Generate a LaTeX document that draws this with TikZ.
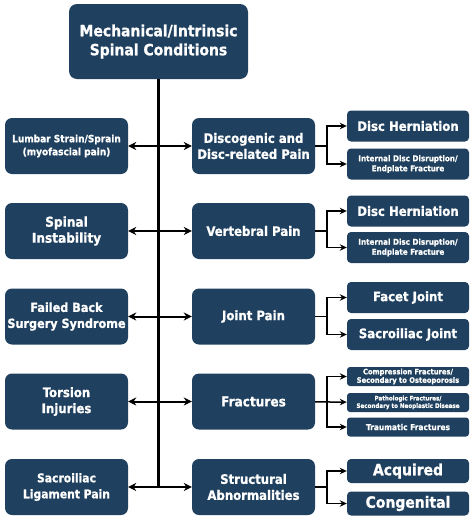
\documentclass[tikz,border=0pt]{standalone}
\usepackage{fontspec}
\setmainfont{DejaVu Sans Condensed}[BoldFont={DejaVu Sans Condensed Bold}, BoldFeatures={FakeBold=1}]
\usetikzlibrary{arrows.meta}
\definecolor{mynavy}{RGB}{31,64,94}
\newcommand{\sz}[2]{\fontsize{#1}{#2}\selectfont}
\newcommand{\widthside}{123pt}
\newcommand{\widthsub}{122pt}
\newcommand{\heightside}{56pt}
\tikzset{
    common/.style={draw=none, fill=mynavy, text=white, align=center, inner sep=1pt, font=\bfseries},
    rootbox/.style={common, rounded corners=8pt, minimum width=179pt, minimum height=75pt, font=\bfseries\sz{15.5}{19}},
    side/.style={common, rounded corners=7pt, minimum width=\widthside, minimum height=\heightside},
    sub/.style={common, rounded corners=4pt, minimum width=\widthsub, minimum height=31pt},
    thin/.style={sub, minimum height=19pt, rounded corners=3pt},
    trunk/.style={line width=2.2pt},
    twoway/.style={line width=2pt, {Stealth[length=8pt, width=8pt]}-{Stealth[length=8pt, width=8pt]}},
    branch/.style={line width=1.5pt, -{Stealth[length=7pt, width=6.5pt]}}
}
\begin{document}
\begin{tikzpicture}[x=1pt, y=-1pt]
    \useasboundingbox (0,0) rectangle (474,520);

    \node[rootbox] (root) at (158.5,41.5) {Mechanical/Intrinsic\\Spinal Conditions};

    % left column
    \node[side, font=\bfseries\sz{10}{13}] (lumbar) at (66.5,146) {Lumbar Strain/Sprain\\(myofascial pain)};
    \node[side, font=\bfseries\sz{13.5}{16}] (instab) at (66.5,231) {Spinal\\Instability};
    \node[side, font=\bfseries\sz{12.5}{16}] (failed) at (66.5,316.5) {Failed Back\\Surgery Syndrome};
    \node[side, font=\bfseries\sz{13}{16}] (torsion) at (66.5,401.5) {Torsion\\Injuries};
    \node[side, font=\bfseries\sz{12}{16}] (ligament) at (66.5,487) {Sacroiliac\\Ligament Pain};

    % middle column
    \node[side, font=\bfseries\sz{13}{16}] (disco) at (253.5,146) {Discogenic and\\Disc-related Pain};
    \node[side, font=\bfseries\sz{13}{16}] (vertebral) at (253.5,231) {Vertebral Pain};
    \node[side, font=\bfseries\sz{13}{16}] (joint) at (253.5,316.5) {Joint Pain};
    \node[side, font=\bfseries\sz{13.5}{16}] (fract) at (253.5,401.5) {Fractures};
    \node[side, font=\bfseries\sz{13}{16}] (struct) at (253.5,487) {Structural\\Abnormalities};

    % right column
    \node[sub, font=\bfseries\sz{13}{15}] (disco-herniation) at (408,126) {Disc Herniation};
    \node[sub, font=\bfseries\sz{8}{10}] (disco-internal) at (408,164) {Internal Disc Disruption/\\Endplate Fracture};
    \node[sub, font=\bfseries\sz{13}{15}] (vertebral-herniation) at (408,211) {Disc Herniation};
    \node[sub, font=\bfseries\sz{8}{10}] (vertebral-internal) at (408,247.5) {Internal Disc Disruption/\\Endplate Fracture};
    \node[sub, font=\bfseries\sz{13}{15}] (facet) at (408,297.5) {Facet Joint};
    \node[sub, font=\bfseries\sz{13}{15}] (sacroiliac) at (408,334.5) {Sacroiliac Joint};
    \node[thin, font=\bfseries\sz{7.5}{8.5}] (compression) at (408,376.5) {Compression Fractures/\\Secondary to Osteoporosis};
    \node[thin, font=\bfseries\sz{6.2}{7.5}] (pathologic) at (408,402.5) {Pathologic Fractures/\\Secondary to Neoplastic Disease};
    \node[thin, font=\bfseries\sz{8.3}{10}] (traumatic) at (408,427) {Traumatic Fractures};
    \node[sub, minimum height=24pt, font=\bfseries\sz{15.5}{18}] (acquired) at (408,471) {Acquired};
    \node[sub, minimum height=24pt, font=\bfseries\sz{15.5}{18}] (congenital) at (408,503.5) {Congenital};

    \draw[trunk] (root.south) -- (root.south |- struct.west);

    \foreach \l/\m in {lumbar/disco, instab/vertebral, failed/joint, torsion/fract, ligament/struct}
        \draw[twoway] (\l) -- (\m);

    \foreach \m/\a/\b in {disco/disco-herniation/disco-internal, vertebral/vertebral-herniation/vertebral-internal,
                          joint/facet/sacroiliac, fract/compression/traumatic, struct/acquired/congenital} {
        \draw[branch] (\m.east) -- ++(12,0) |- (\a.west);
        \draw[branch] (\m.east) -- ++(12,0) |- (\b.west);
    }
    \draw[branch] (fract) -- (pathologic);
\end{tikzpicture}
\end{document}
